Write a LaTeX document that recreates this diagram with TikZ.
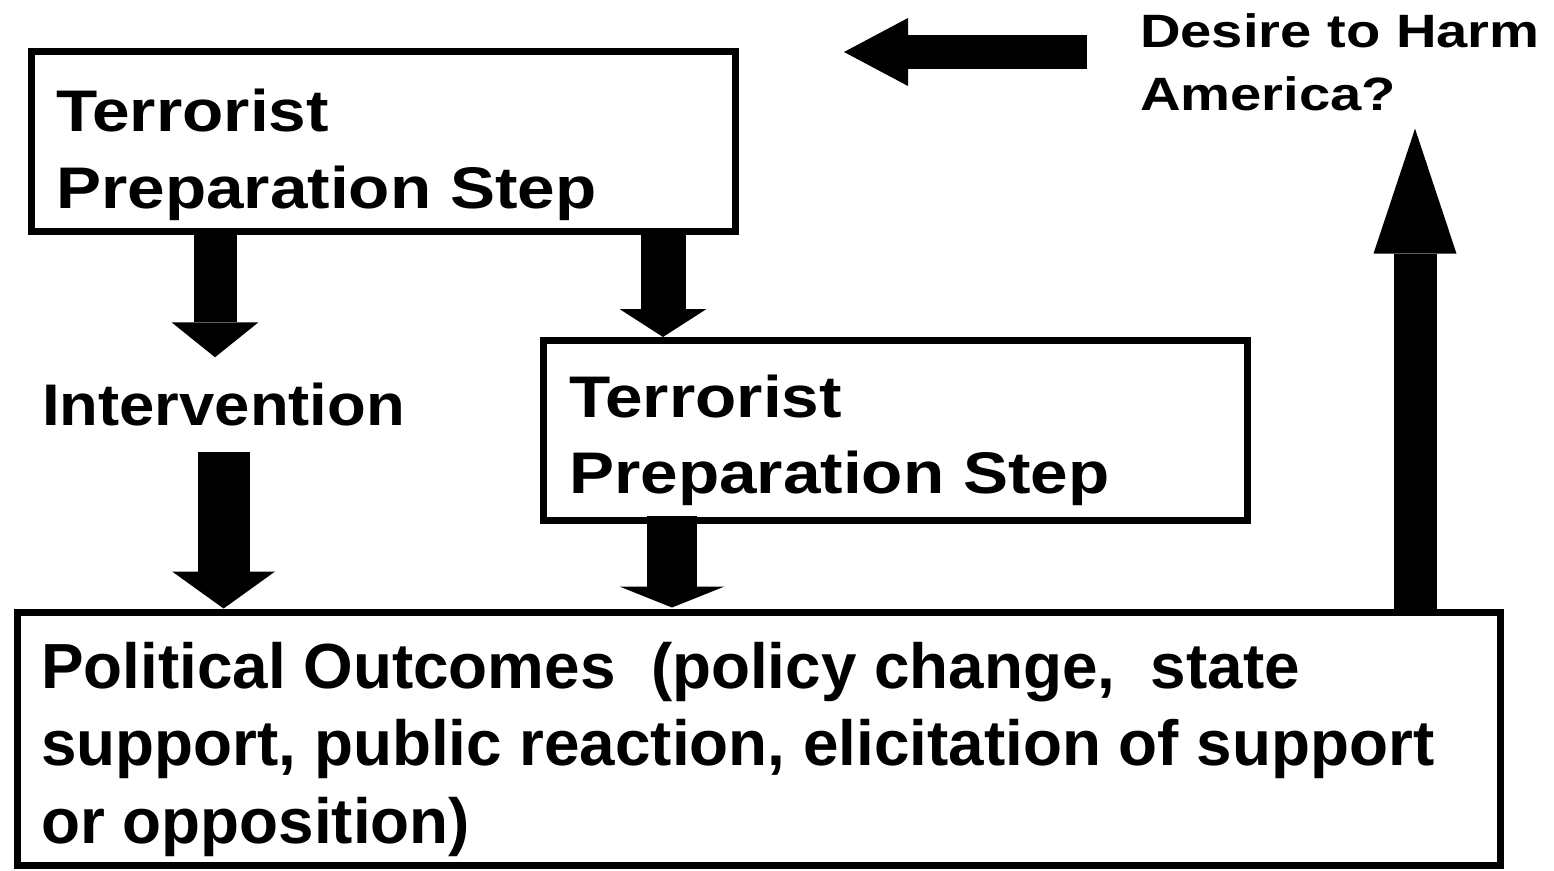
\documentclass[tikz,border=0pt]{standalone}
\usepackage{fontspec}
\setmainfont{Liberation Sans}
\newfontfamily\stepfont[FakeStretch=1.15]{Liberation Sans}
\newfontfamily\intvfont[FakeStretch=1.08]{Liberation Sans}
\newfontfamily\harmfont[FakeStretch=1.2]{Liberation Sans}
\usetikzlibrary{arrows.meta}

\begin{document}
\begin{tikzpicture}[x=1pt,y=-1pt,line join=miter,
  heavy/.style n args={3}{line width=#1,-{Triangle[width=#2,length=#3,line width=0pt]}}]
\tikzstyle{stepbox}=[draw=black,line width=7pt,inner sep=0pt,outer sep=0pt]
\tikzstyle{boxtext}=[inner sep=0pt,anchor=base west,align=left]

\useasboundingbox (0,0) rectangle (1554,870);
\fill[white] (0,0) rectangle (1554,870);

\node[stepbox,minimum width=704pt,minimum height=180pt] (prep1) at (383,141.5) {};
\node[boxtext,font=\stepfont\bfseries\fontsize{58.7}{77}\selectfont] (prep1txt) at (56,208) {Terrorist\\Preparation Step};
\node[stepbox,minimum width=704pt,minimum height=180pt] (prep2) at (895,430) {};
\node[boxtext,font=\stepfont\bfseries\fontsize{58.7}{76}\selectfont] (prep2txt) at (569,493) {Terrorist\\Preparation Step};
\node[boxtext,font=\intvfont\bfseries\fontsize{58.7}{70}\selectfont] (intv) at (42,425) {Intervention};
\node[stepbox,minimum width=1483pt,minimum height=253pt] (outcome) at (758.5,738.5) {};
\node[boxtext,font=\bfseries\fontsize{63.8}{77.5}\selectfont] (outcometxt) at (41,843) {Political Outcomes\ \ (policy change,\ \ state\\support, public reaction, elicitation of support\\or opposition)};
\node[boxtext,font=\harmfont\bfseries\fontsize{46.8}{63}\selectfont] (harm) at (1140,110) {Desire to Harm\\America?};
\coordinate (harmtip) at (844,52);

% fat arrows
\draw[heavy={43pt}{87pt}{35pt},shorten <=-4pt,shorten >=25pt] ([xshift=-168pt]prep1.south) coordinate (prep1left) -- (prep1left |- intv.north);
\draw[heavy={52pt}{103pt}{37pt},shorten <=26pt,shorten >=3.5pt] (intv.south) -- (intv.south |- outcome.north);
\draw[heavy={45pt}{87pt}{28pt},shorten <=-4pt,shorten >=3pt] ([xshift=280pt]prep1.south) coordinate (prep1foot) -- (prep1foot |- prep2.north);
\draw[heavy={50pt}{105pt}{21pt},shorten <=-4pt,shorten >=4.5pt] ([xshift=129pt]prep2.south west) coordinate (prep2foot) -- (prep2foot |- outcome.north);
\draw[heavy={43pt}{83pt}{125pt},shorten >=18pt] ([xshift=656.5pt]outcome.north) coordinate (upfoot) -- (upfoot |- harm.south);
\draw[heavy={34pt}{68pt}{64pt},shorten <=53pt] (harmtip -| harm.west) -- (harmtip);
\end{tikzpicture}
\end{document}
